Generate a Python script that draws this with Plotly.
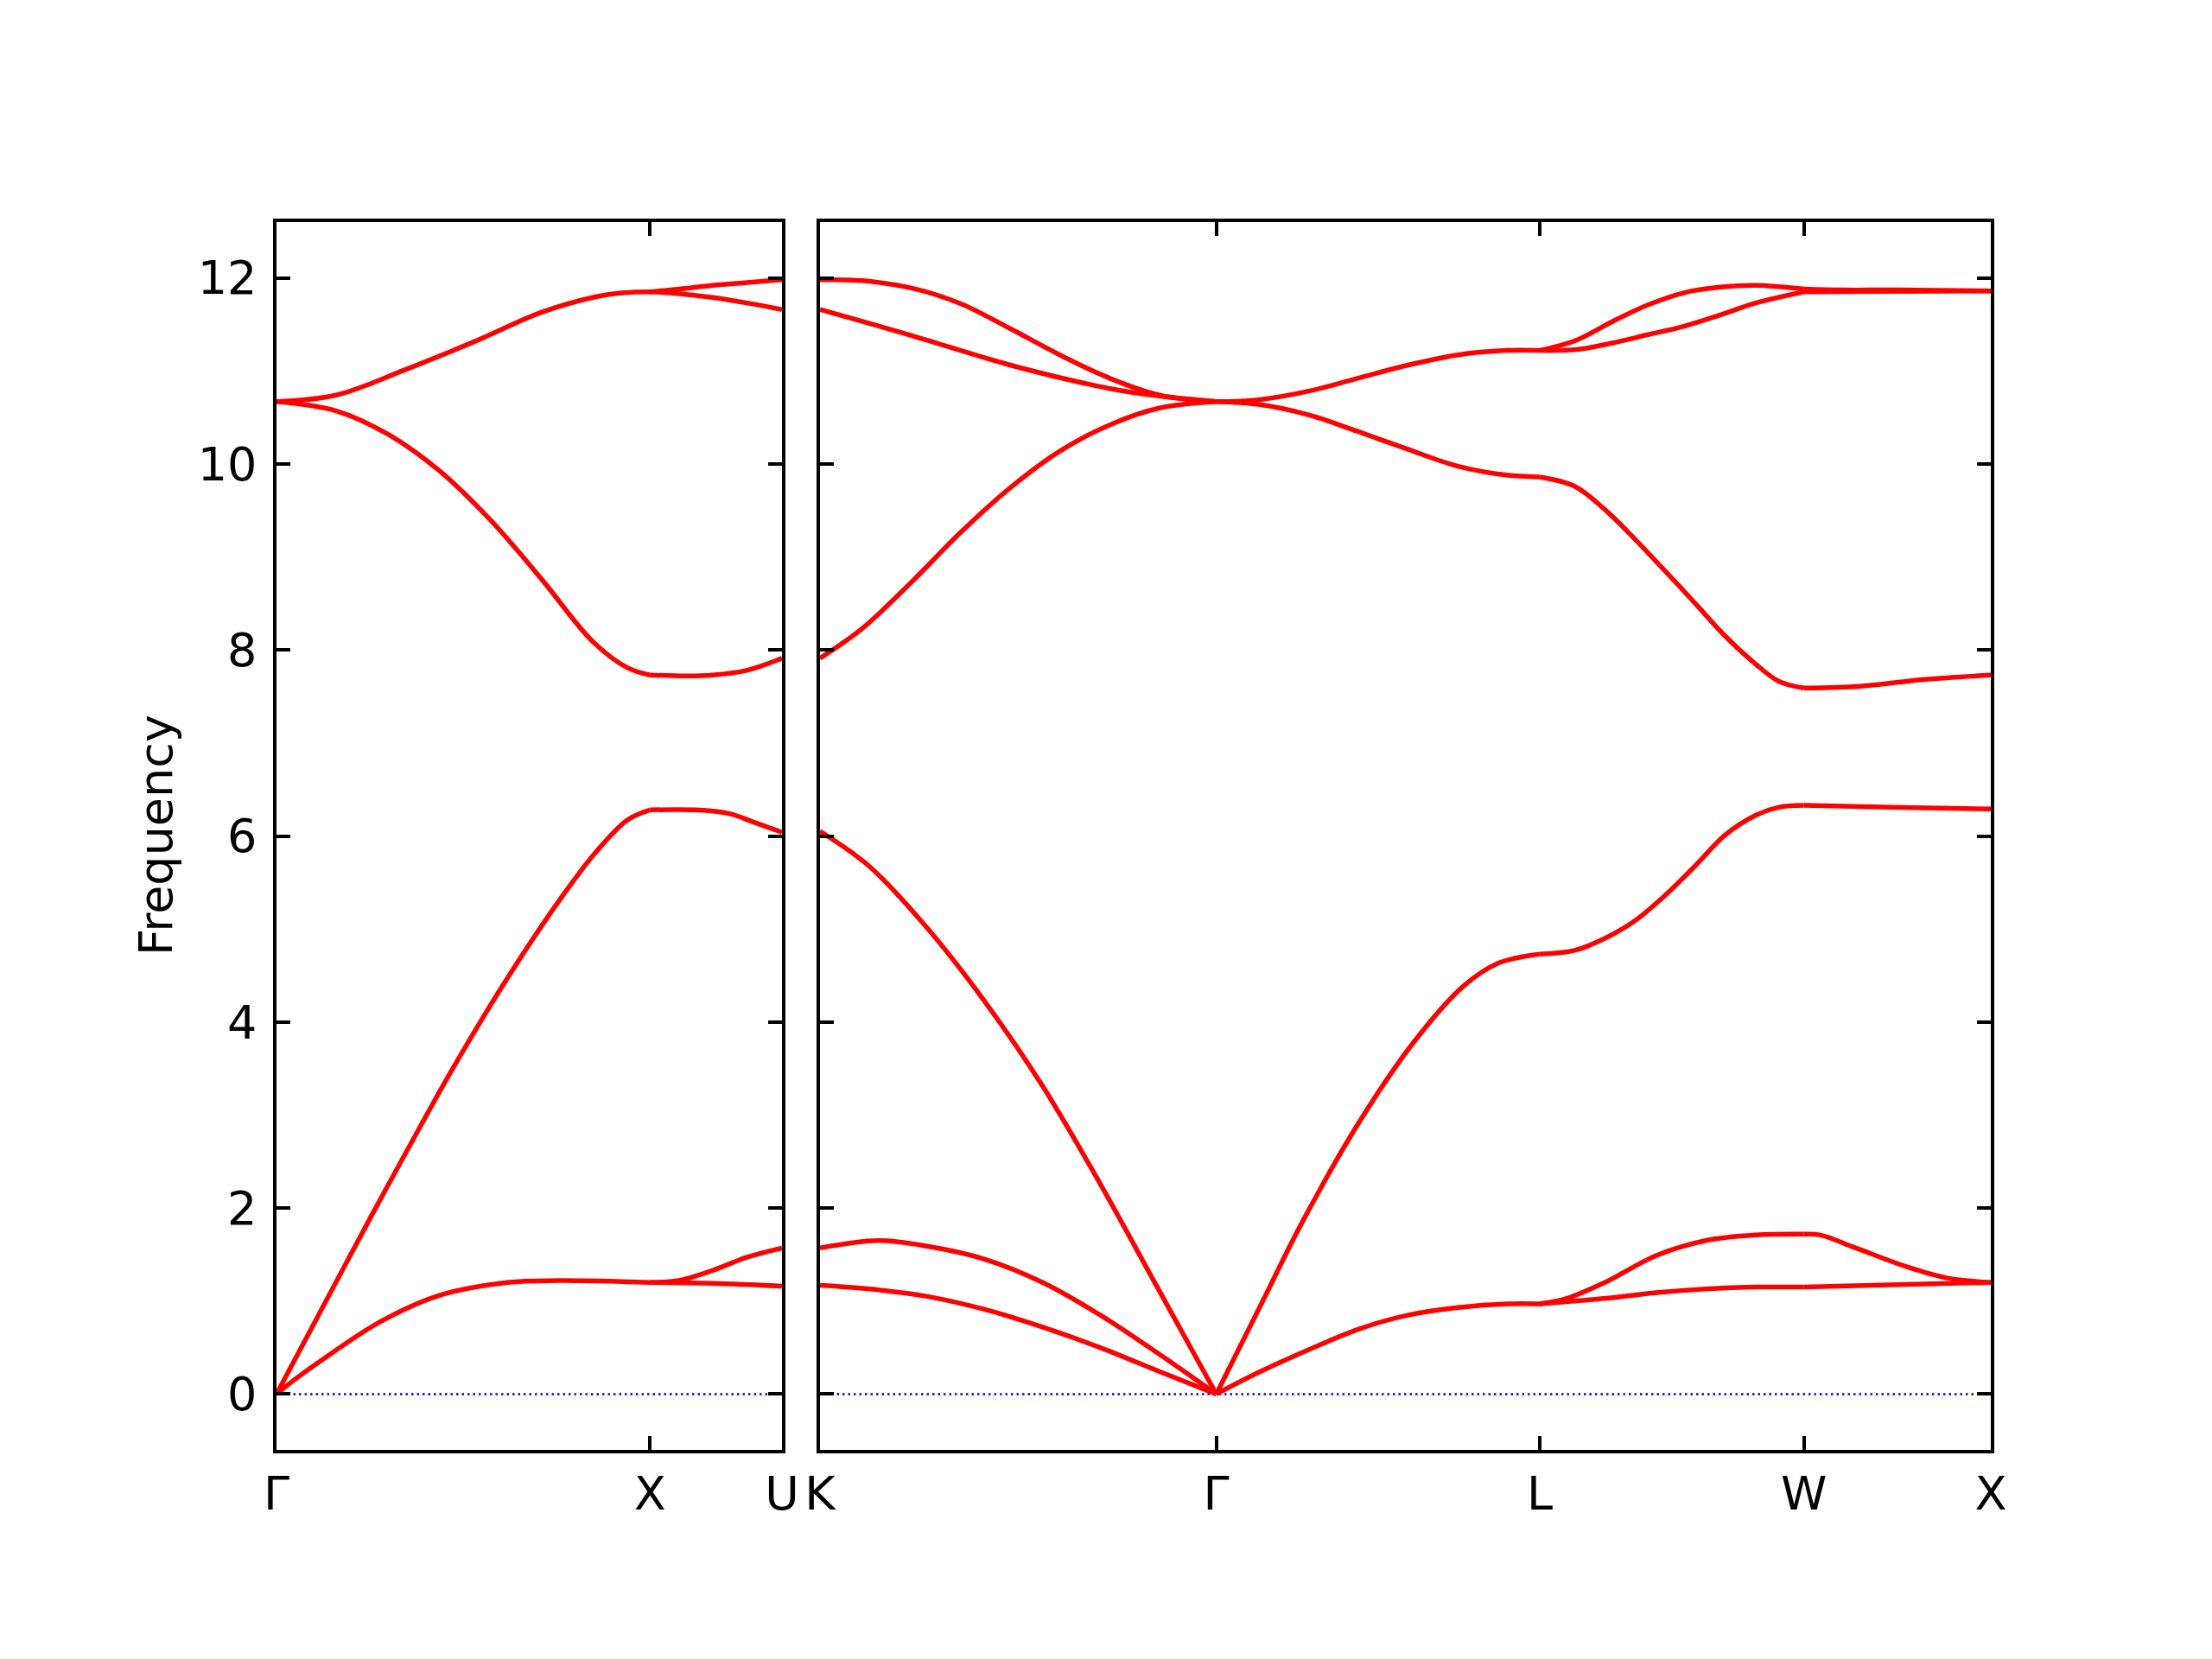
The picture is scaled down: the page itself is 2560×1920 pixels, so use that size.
import numpy as np
import plotly.graph_objects as go

# ---- k-path (distances along the path) ----
left_tick_pos = [0.0, 1.0, 1.3536]
left_tick_text = ["Γ", "X", "U"]
right_tick_pos = [1.3536, 2.4142, 3.2802, 3.9873, 4.4873]
right_tick_text = ["K", "Γ", "L", "W", "X"]

# ---- Segment Γ -> X (start 0.0) ----
GX_start = 0.0
GX_opt_a_q = [0, 0.16, 0.343, 0.527, 0.71, 0.847, 0.93, 1.0]
GX_opt_a_f = [10.67, 10.74, 11.01, 11.31, 11.63, 11.79, 11.84, 11.85]
GX_opt_b_q = [0, 0.16, 0.298, 0.435, 0.572, 0.71, 0.847, 0.939, 1.0]
GX_opt_b_f = [10.67, 10.57, 10.32, 9.93, 9.40, 8.76, 8.09, 7.81, 7.73]
GX_LA_q = [0, 0.114, 0.252, 0.343, 0.472, 0.618, 0.765, 0.856, 0.939, 1.0]
GX_LA_f = [0, 0.86, 1.90, 2.57, 3.50, 4.47, 5.35, 5.83, 6.17, 6.28]
GX_TA_q = [0, 0.05, 0.114, 0.279, 0.435, 0.618, 0.755, 1.0]
GX_TA_f = [0, 0.16, 0.345, 0.78, 1.06, 1.20, 1.22, 1.20]

# ---- Segment X -> U (start 1.0) ----
XU_start = 1.0
XU_opt_a_q = [0, 0.08, 0.168, 0.26, 0.3536]
XU_opt_a_f = [11.85, 11.88, 11.92, 11.95, 11.98]
XU_opt_b_q = [0, 0.08, 0.168, 0.26, 0.3536]
XU_opt_b_f = [11.85, 11.83, 11.79, 11.73, 11.66]
XU_LO_q = [0, 0.1, 0.168, 0.259, 0.3536]
XU_LO_f = [7.73, 7.72, 7.73, 7.78, 7.91]
XU_LA_q = [0, 0.122, 0.213, 0.277, 0.3536]
XU_LA_f = [6.28, 6.28, 6.24, 6.15, 6.04]
XU_TA_a_q = [0, 0.076, 0.168, 0.259, 0.3536]
XU_TA_a_f = [1.20, 1.22, 1.33, 1.47, 1.57]
XU_TA_b_q = [0, 0.168, 0.3536]
XU_TA_b_f = [1.20, 1.19, 1.16]

# ---- Segment K -> Γ (start 1.3536) ----
KG_start = 1.3536
KG_opt_a_q = [0, 0.113, 0.245, 0.378, 0.511, 0.643, 0.776, 0.908, 1.0607]
KG_opt_a_f = [11.98, 11.97, 11.89, 11.72, 11.45, 11.17, 10.92, 10.74, 10.67]
KG_opt_b_q = [0, 0.245, 0.511, 0.776, 0.908, 1.0607]
KG_opt_b_f = [11.66, 11.38, 11.06, 10.81, 10.73, 10.67]
KG_opt_c_q = [0, 0.113, 0.245, 0.378, 0.511, 0.643, 0.776, 0.908, 1.0607]
KG_opt_c_f = [7.91, 8.23, 8.73, 9.27, 9.75, 10.14, 10.42, 10.60, 10.67]
KG_LA_q = [0, 0.133, 0.287, 0.441, 0.596, 0.750, 0.904, 0.981, 1.0607]
KG_LA_f = [6.05, 5.67, 5.01, 4.22, 3.31, 2.26, 1.14, 0.58, 0]
KG_TA_a_q = [0, 0.156, 0.287, 0.441, 0.596, 0.750, 0.904, 1.0607]
KG_TA_a_f = [1.57, 1.65, 1.59, 1.45, 1.20, 0.85, 0.44, 0]
KG_TA_b_q = [0, 0.133, 0.287, 0.441, 0.596, 0.750, 0.904, 1.0607]
KG_TA_b_f = [1.17, 1.13, 1.05, 0.91, 0.72, 0.50, 0.25, 0]

# ---- Segment Γ -> L (start 2.4142) ----
GL_start = 2.4142
GL_opt_a_q = [0, 0.113, 0.245, 0.378, 0.511, 0.643, 0.776, 0.866]
GL_opt_a_f = [10.67, 10.69, 10.78, 10.92, 11.06, 11.17, 11.22, 11.22]
GL_LO_q = [0, 0.113, 0.245, 0.378, 0.511, 0.643, 0.776, 0.866]
GL_LO_f = [10.67, 10.64, 10.53, 10.35, 10.16, 9.98, 9.88, 9.86]
GL_LA_q = [0, 0.117, 0.229, 0.382, 0.528, 0.660, 0.753, 0.866]
GL_LA_f = [0, 0.94, 1.84, 2.92, 3.78, 4.38, 4.63, 4.73]
GL_TA_q = [0, 0.117, 0.249, 0.382, 0.515, 0.647, 0.780, 0.866]
GL_TA_f = [0, 0.24, 0.48, 0.70, 0.85, 0.93, 0.97, 0.97]

# ---- Segment L -> W (start 3.2802) ----
LW_start = 3.2802
LW_opt_a_q = [0, 0.098, 0.194, 0.290, 0.386, 0.482, 0.578, 0.7071]
LW_opt_a_f = [11.22, 11.33, 11.53, 11.71, 11.84, 11.90, 11.92, 11.88]
LW_opt_b_q = [0, 0.098, 0.194, 0.290, 0.386, 0.482, 0.578, 0.7071]
LW_opt_b_f = [11.22, 11.23, 11.30, 11.39, 11.48, 11.60, 11.73, 11.85]
LW_LO_q = [0, 0.093, 0.174, 0.255, 0.335, 0.416, 0.496, 0.577, 0.641, 0.7071]
LW_LO_f = [9.86, 9.76, 9.51, 9.19, 8.85, 8.50, 8.15, 7.85, 7.66, 7.59]
LW_LA_q = [0, 0.093, 0.174, 0.255, 0.335, 0.416, 0.496, 0.577, 0.641, 0.7071]
LW_LA_f = [4.73, 4.77, 4.90, 5.09, 5.36, 5.68, 6.01, 6.22, 6.31, 6.33]
LW_TA_a_q = [0, 0.073, 0.179, 0.312, 0.444, 0.577, 0.7071]
LW_TA_a_f = [0.97, 1.03, 1.21, 1.49, 1.65, 1.71, 1.72]
LW_TA_b_q = [0, 0.179, 0.312, 0.444, 0.577, 0.7071]
LW_TA_b_f = [0.97, 1.03, 1.09, 1.13, 1.15, 1.15]

# ---- Segment W -> X (start 3.9873) ----
WX_start = 3.9873
WX_opt_a_q = [0, 0.1, 0.25, 0.5]
WX_opt_a_f = [11.88, 11.87, 11.87, 11.86]
WX_opt_b_q = [0, 0.25, 0.5]
WX_opt_b_f = [11.85, 11.855, 11.86]
WX_LO_q = [0, 0.151, 0.312, 0.5]
WX_LO_f = [7.59, 7.61, 7.68, 7.73]
WX_LA_q = [0, 0.23, 0.5]
WX_LA_f = [6.33, 6.31, 6.29]
WX_TA_a_q = [0, 0.044, 0.139, 0.274, 0.381, 0.5]
WX_TA_a_f = [1.72, 1.71, 1.57, 1.37, 1.25, 1.20]
WX_TA_b_q = [0, 0.274, 0.5]
WX_TA_b_f = [1.15, 1.18, 1.20]

y_ticks = [0, 2, 4, 6, 8, 10, 12]

left_branches = [
    (GX_start, GX_opt_a_q, GX_opt_a_f), (GX_start, GX_opt_b_q, GX_opt_b_f),
    (GX_start, GX_LA_q, GX_LA_f), (GX_start, GX_TA_q, GX_TA_f),
    (XU_start, XU_opt_a_q, XU_opt_a_f), (XU_start, XU_opt_b_q, XU_opt_b_f),
    (XU_start, XU_LO_q, XU_LO_f), (XU_start, XU_LA_q, XU_LA_f),
    (XU_start, XU_TA_a_q, XU_TA_a_f), (XU_start, XU_TA_b_q, XU_TA_b_f),
]
right_branches = [
    (KG_start, KG_opt_a_q, KG_opt_a_f), (KG_start, KG_opt_b_q, KG_opt_b_f),
    (KG_start, KG_opt_c_q, KG_opt_c_f), (KG_start, KG_LA_q, KG_LA_f),
    (KG_start, KG_TA_a_q, KG_TA_a_f), (KG_start, KG_TA_b_q, KG_TA_b_f),
    (GL_start, GL_opt_a_q, GL_opt_a_f), (GL_start, GL_LO_q, GL_LO_f),
    (GL_start, GL_LA_q, GL_LA_f), (GL_start, GL_TA_q, GL_TA_f),
    (LW_start, LW_opt_a_q, LW_opt_a_f), (LW_start, LW_opt_b_q, LW_opt_b_f),
    (LW_start, LW_LO_q, LW_LO_f), (LW_start, LW_LA_q, LW_LA_f),
    (LW_start, LW_TA_a_q, LW_TA_a_f), (LW_start, LW_TA_b_q, LW_TA_b_f),
    (WX_start, WX_opt_a_q, WX_opt_a_f), (WX_start, WX_opt_b_q, WX_opt_b_f),
    (WX_start, WX_LO_q, WX_LO_f), (WX_start, WX_LA_q, WX_LA_f),
    (WX_start, WX_TA_a_q, WX_TA_a_f), (WX_start, WX_TA_b_q, WX_TA_b_f),
]

fig = go.Figure()

# zero reference lines (blue dotted)
zero_style = dict(color="blue", width=2.5, dash="2.5px,4px")
fig.add_trace(go.Scatter(x=[left_tick_pos[0], left_tick_pos[-1]], y=[0, 0], mode="lines",
                         line=zero_style, xaxis="x", yaxis="y",
                         showlegend=False, hoverinfo="skip"))
fig.add_trace(go.Scatter(x=[right_tick_pos[0], right_tick_pos[-1]], y=[0, 0], mode="lines",
                         line=zero_style, xaxis="x2", yaxis="y2",
                         showlegend=False, hoverinfo="skip"))

line_style = dict(color="red", width=5.5, shape="spline", smoothing=1.0)
for start, q, f in left_branches:
    fig.add_trace(go.Scatter(x=start + np.array(q), y=f, mode="lines", line=line_style,
                             xaxis="x", yaxis="y", showlegend=False))
for start, q, f in right_branches:
    fig.add_trace(go.Scatter(x=start + np.array(q), y=f, mode="lines", line=line_style,
                             xaxis="x2", yaxis="y2", showlegend=False))

font = dict(family="DejaVu Sans", size=54, color="black")
axis_common = dict(showline=True, linecolor="black", linewidth=3.5, mirror="allticks",
                   ticks="inside", ticklen=16, tickwidth=3.5, tickcolor="black",
                   showgrid=False, zeroline=False, tickfont=font, automargin=False)

fig.update_layout(
    width=2560, height=1920, autosize=False,
    margin=dict(l=0, r=0, t=0, b=0, pad=0),
    paper_bgcolor="white", plot_bgcolor="white",
    font=font,
    xaxis=dict(domain=[320 / 2560, 905 / 2560], range=[left_tick_pos[0], left_tick_pos[-1]],
               tickmode="array", tickvals=left_tick_pos, ticktext=left_tick_text,
               ticklabelstandoff=0, anchor="y", **axis_common),
    xaxis2=dict(domain=[949 / 2560, 2304 / 2560], range=[right_tick_pos[0], right_tick_pos[-1]],
                tickmode="array", tickvals=right_tick_pos, ticktext=right_tick_text,
                ticklabelstandoff=0, anchor="y2", **axis_common),
    yaxis=dict(domain=[1 - 1678 / 1920, 1 - 257 / 1920], range=[-0.6, 12.6],
               tickmode="array", tickvals=y_ticks, ticklabelstandoff=8,
               anchor="x", **axis_common),
    yaxis2=dict(domain=[1 - 1678 / 1920, 1 - 257 / 1920], range=[-0.6, 12.6],
                tickmode="array", tickvals=y_ticks, showticklabels=False,
                anchor="x2", matches="y", **axis_common),
    annotations=[dict(text="Frequency", xref="paper", yref="paper", x=180 / 2560,
                      y=1 - 967 / 1920, xanchor="center", yanchor="middle",
                      textangle=-90, showarrow=False, font=font)],
)

fig.write_html("out.html", config={"displayModeBar": False},
               post_script="document.body.style.margin='0';")
